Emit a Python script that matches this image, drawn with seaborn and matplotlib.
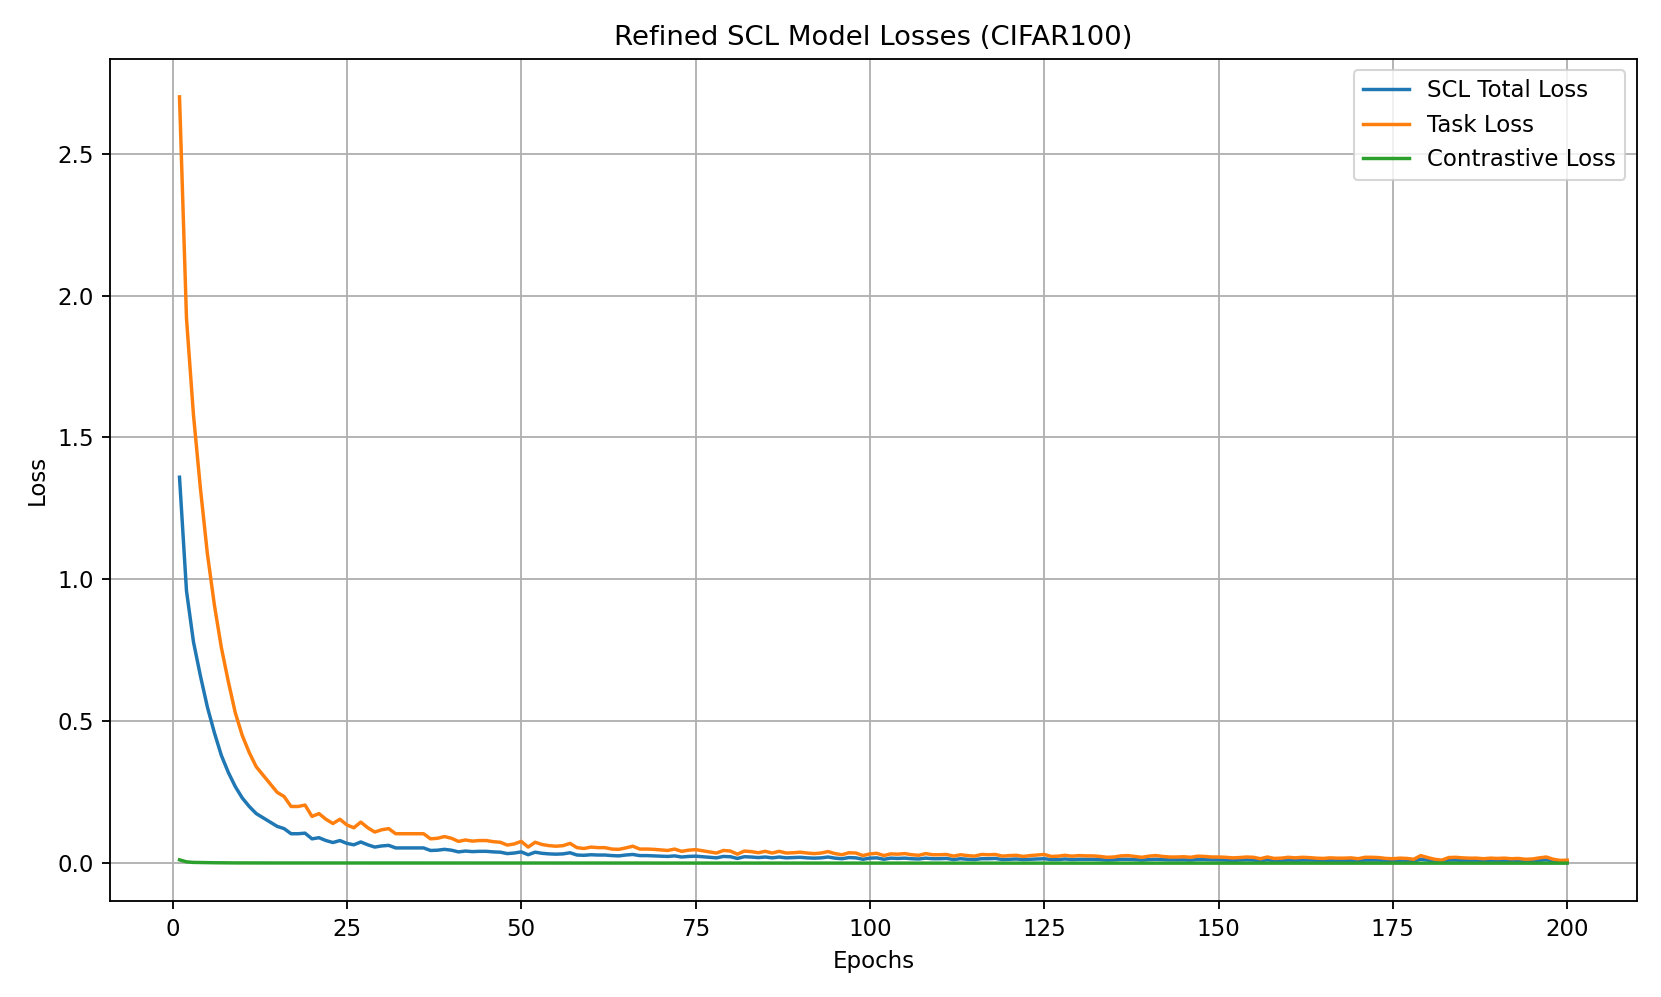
import matplotlib
matplotlib.use("Agg")
import matplotlib.pyplot as plt
import seaborn as sns
import numpy as np

epochs = list(range(1, 201))

task_loss = [
    2.70, 1.92, 1.58, 1.32, 1.09, 0.91, 0.76, 0.64, 0.53, 0.45,
    0.39, 0.34, 0.31, 0.28, 0.25, 0.235, 0.200, 0.200, 0.205, 0.165,
    0.175, 0.155, 0.140, 0.155, 0.135, 0.125, 0.145, 0.125, 0.110, 0.118,
    0.122, 0.104, 0.104, 0.104, 0.104, 0.104, 0.086, 0.088, 0.094, 0.088,
    0.077, 0.082, 0.078, 0.080, 0.080, 0.076, 0.074, 0.064, 0.068, 0.077,
    0.057, 0.074, 0.066, 0.062, 0.060, 0.062, 0.070, 0.055, 0.052, 0.057,
    0.055, 0.055, 0.050, 0.049, 0.054, 0.060, 0.050, 0.050, 0.049, 0.047,
    0.045, 0.050, 0.042, 0.046, 0.048, 0.044, 0.040, 0.036, 0.045, 0.043,
    0.032, 0.043, 0.041, 0.037, 0.042, 0.036, 0.042, 0.036, 0.037, 0.039,
    0.036, 0.034, 0.036, 0.041, 0.034, 0.030, 0.037, 0.036, 0.027, 0.033,
    0.035, 0.027, 0.033, 0.032, 0.034, 0.030, 0.028, 0.034, 0.030, 0.030,
    0.031, 0.025, 0.030, 0.027, 0.025, 0.031, 0.030, 0.031, 0.025, 0.027,
    0.028, 0.024, 0.027, 0.029, 0.031, 0.024, 0.025, 0.028, 0.025, 0.027,
    0.026, 0.026, 0.024, 0.021, 0.022, 0.026, 0.027, 0.024, 0.021, 0.025,
    0.027, 0.024, 0.022, 0.022, 0.023, 0.021, 0.025, 0.024, 0.022, 0.022,
    0.021, 0.019, 0.020, 0.022, 0.021, 0.016, 0.022, 0.017, 0.018, 0.021,
    0.019, 0.021, 0.020, 0.018, 0.017, 0.019, 0.018, 0.018, 0.019, 0.016,
    0.021, 0.021, 0.020, 0.017, 0.016, 0.018, 0.017, 0.014, 0.027, 0.020,
    0.014, 0.011, 0.020, 0.021, 0.019, 0.018, 0.018, 0.016, 0.018, 0.017,
    0.018, 0.016, 0.017, 0.014, 0.015, 0.019, 0.022, 0.014, 0.010, 0.011,
]

total_loss = [
    1.36, 0.96, 0.78, 0.66, 0.55, 0.46, 0.38, 0.32, 0.27, 0.23,
    0.20, 0.175, 0.160, 0.145, 0.130, 0.122, 0.104, 0.104, 0.106, 0.086,
    0.090, 0.080, 0.073, 0.080, 0.070, 0.065, 0.075, 0.065, 0.057, 0.061,
    0.063, 0.054, 0.054, 0.054, 0.054, 0.054, 0.045, 0.046, 0.049, 0.046,
    0.040, 0.043, 0.041, 0.042, 0.042, 0.040, 0.039, 0.034, 0.036, 0.040,
    0.030, 0.039, 0.035, 0.033, 0.032, 0.033, 0.037, 0.029, 0.028, 0.030,
    0.029, 0.029, 0.027, 0.026, 0.029, 0.031, 0.027, 0.027, 0.026, 0.025,
    0.024, 0.026, 0.022, 0.024, 0.025, 0.023, 0.021, 0.019, 0.024, 0.023,
    0.017, 0.023, 0.022, 0.020, 0.022, 0.019, 0.022, 0.019, 0.020, 0.021,
    0.019, 0.018, 0.019, 0.022, 0.018, 0.016, 0.020, 0.019, 0.014, 0.018,
    0.019, 0.014, 0.018, 0.017, 0.018, 0.016, 0.015, 0.018, 0.016, 0.016,
    0.017, 0.013, 0.016, 0.014, 0.013, 0.016, 0.016, 0.017, 0.013, 0.014,
    0.015, 0.013, 0.014, 0.015, 0.016, 0.013, 0.013, 0.015, 0.013, 0.014,
    0.014, 0.014, 0.013, 0.011, 0.012, 0.014, 0.014, 0.013, 0.011, 0.013,
    0.014, 0.013, 0.012, 0.012, 0.012, 0.011, 0.013, 0.013, 0.012, 0.012,
    0.011, 0.010, 0.011, 0.012, 0.011, 0.009, 0.012, 0.009, 0.010, 0.011,
    0.010, 0.011, 0.011, 0.010, 0.009, 0.010, 0.010, 0.010, 0.010, 0.009,
    0.011, 0.011, 0.011, 0.009, 0.009, 0.010, 0.009, 0.008, 0.014, 0.011,
    0.008, 0.006, 0.011, 0.011, 0.010, 0.010, 0.010, 0.009, 0.010, 0.009,
    0.010, 0.009, 0.009, 0.008, 0.008, 0.010, 0.012, 0.008, 0.006, 0.006,
]

contrastive_loss = [
    0.0120, 0.0050, 0.0030, 0.0025, 0.0020, 0.0018, 0.0015, 0.0013, 0.0012, 0.0011,
    0.0010, 0.0010, 0.0010, 0.0010, 0.0010, 0.0010, 0.0009, 0.0009, 0.0009, 0.0009,
    0.0009, 0.0009, 0.0009, 0.0009, 0.0009, 0.0008, 0.0008, 0.0008, 0.0008, 0.0008,
    0.0008, 0.0008, 0.0008, 0.0008, 0.0008, 0.0008, 0.0008, 0.0008, 0.0008, 0.0008,
    0.0008, 0.0008, 0.0008, 0.0008, 0.0008, 0.0007, 0.0007, 0.0007, 0.0007, 0.0007,
    0.0007, 0.0007, 0.0007, 0.0007, 0.0007, 0.0007, 0.0007, 0.0007, 0.0007, 0.0007,
    0.0007, 0.0007, 0.0007, 0.0007, 0.0007, 0.0007, 0.0007, 0.0006, 0.0006, 0.0006,
    0.0006, 0.0006, 0.0006, 0.0006, 0.0006, 0.0006, 0.0006, 0.0006, 0.0006, 0.0006,
    0.0006, 0.0006, 0.0006, 0.0006, 0.0006, 0.0006, 0.0006, 0.0006, 0.0006, 0.0006,
    0.0006, 0.0006, 0.0006, 0.0006, 0.0006, 0.0006, 0.0006, 0.0006, 0.0005, 0.0005,
    0.0005, 0.0005, 0.0005, 0.0005, 0.0005, 0.0005, 0.0005, 0.0005, 0.0005, 0.0005,
    0.0005, 0.0005, 0.0005, 0.0005, 0.0005, 0.0005, 0.0005, 0.0005, 0.0005, 0.0005,
    0.0005, 0.0005, 0.0005, 0.0005, 0.0005, 0.0005, 0.0005, 0.0005, 0.0005, 0.0004,
    0.0004, 0.0004, 0.0004, 0.0004, 0.0004, 0.0004, 0.0004, 0.0004, 0.0004, 0.0004,
    0.0004, 0.0004, 0.0004, 0.0004, 0.0004, 0.0004, 0.0004, 0.0004, 0.0004, 0.0004,
    0.0004, 0.0004, 0.0004, 0.0004, 0.0004, 0.0004, 0.0004, 0.0004, 0.0004, 0.0004,
    0.0003, 0.0003, 0.0003, 0.0003, 0.0003, 0.0003, 0.0003, 0.0003, 0.0003, 0.0003,
    0.0003, 0.0003, 0.0003, 0.0003, 0.0003, 0.0003, 0.0003, 0.0003, 0.0003, 0.0003,
    0.0003, 0.0003, 0.0003, 0.0003, 0.0003, 0.0003, 0.0003, 0.0003, 0.0003, 0.0003,
    0.0003, 0.0003, 0.0003, 0.0003, 0.0003, 0.0003, 0.0003, 0.0003, 0.0003, 0.0003,
]

series_labels = ["SCL Total Loss", "Task Loss", "Contrastive Loss"]
colors = ["#1f77b4", "#ff7f0e", "#2ca02c"]

s = 1.1  # reference rendered at ~165 dpi equivalent
plt.rcParams.update({
    "font.size": 10 * s,
    "axes.linewidth": 0.8 * s,
    "grid.linewidth": 0.8 * s,
    "xtick.major.width": 0.8 * s,
    "ytick.major.width": 0.8 * s,
    "xtick.major.size": 3.5 * s,
    "ytick.major.size": 3.5 * s,
    "xtick.major.pad": 3.5 * s,
    "ytick.major.pad": 3.5 * s,
    "axes.labelpad": 4.0 * s,
    "axes.titlepad": 6.0 * s,
})

fig = plt.figure(figsize=(1661 / 150, 997 / 150), dpi=150)
ax = fig.add_axes([0.0663, 0.0958, 0.919, 0.8455])

for vals, lab, col in zip([total_loss, task_loss, contrastive_loss], series_labels, colors):
    sns.lineplot(x=epochs, y=vals, ax=ax, label=lab, color=col, linewidth=1.5 * s)

ax.set_title("Refined SCL Model Losses (CIFAR100)", fontsize=12 * s)
ax.set_xlabel("Epochs", fontsize=10 * s)
ax.set_ylabel("Loss", fontsize=10 * s)
ax.grid(True)
ax.legend(loc="upper right", fontsize=10 * s)
ax.set_xticks([0, 25, 50, 75, 100, 125, 150, 175, 200])
ax.set_yticks([0.0, 0.5, 1.0, 1.5, 2.0, 2.5])

fig.savefig("out.png", dpi=150)
